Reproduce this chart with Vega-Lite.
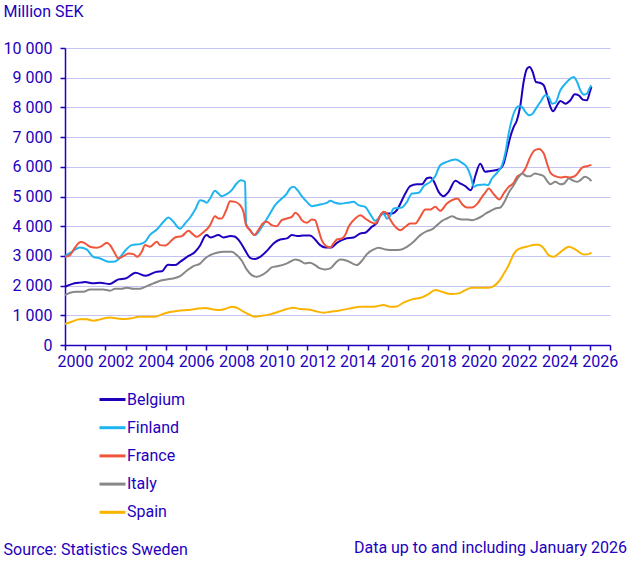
{
  "$schema": "https://vega.github.io/schema/vega-lite/v6.json",
  "description": "Monthly values by country, million SEK, 2000 to January 2026.",
  "width": 545,
  "height": 297,
  "autosize": "none",
  "padding": {"left": 65, "top": 48, "right": 25, "bottom": 217},
  "config": {
    "font": "Roboto",
    "view": {"stroke": null},
    "axis": {
      "labelFont": "Roboto",
      "labelFontSize": 16,
      "labelColor": "#1e00be",
      "titleFont": "Roboto",
      "titleFontSize": 16,
      "titleFontWeight": "normal",
      "titleColor": "#1e00be",
      "domainColor": "#1e00be",
      "domainWidth": 1.5,
      "tickColor": "#1e00be",
      "tickWidth": 1.5,
      "tickSize": 5
    }
  },
  "title": {
    "text": "Data up to and including January 2026",
    "orient": "bottom",
    "anchor": "end",
    "frame": "group",
    "font": "Roboto",
    "fontSize": 16,
    "fontWeight": "normal",
    "color": "#1e00be",
    "dx": 17,
    "dy": -21
  },
  "datasets": {
    "rows": [
      {"country": "Belgium", "year": 2000.00, "value": 1960},
      {"country": "Belgium", "year": 2000.33, "value": 2050},
      {"country": "Belgium", "year": 2000.75, "value": 2100},
      {"country": "Belgium", "year": 2001.00, "value": 2120},
      {"country": "Belgium", "year": 2001.40, "value": 2075},
      {"country": "Belgium", "year": 2001.75, "value": 2100},
      {"country": "Belgium", "year": 2002.20, "value": 2050},
      {"country": "Belgium", "year": 2002.65, "value": 2210},
      {"country": "Belgium", "year": 2003.00, "value": 2240},
      {"country": "Belgium", "year": 2003.50, "value": 2430},
      {"country": "Belgium", "year": 2004.00, "value": 2330},
      {"country": "Belgium", "year": 2004.55, "value": 2470},
      {"country": "Belgium", "year": 2004.80, "value": 2480},
      {"country": "Belgium", "year": 2005.10, "value": 2700},
      {"country": "Belgium", "year": 2005.45, "value": 2690},
      {"country": "Belgium", "year": 2005.70, "value": 2800},
      {"country": "Belgium", "year": 2006.10, "value": 2990},
      {"country": "Belgium", "year": 2006.45, "value": 3140},
      {"country": "Belgium", "year": 2006.70, "value": 3360},
      {"country": "Belgium", "year": 2006.94, "value": 3670},
      {"country": "Belgium", "year": 2007.02, "value": 3700},
      {"country": "Belgium", "year": 2007.20, "value": 3620},
      {"country": "Belgium", "year": 2007.60, "value": 3700},
      {"country": "Belgium", "year": 2007.85, "value": 3620},
      {"country": "Belgium", "year": 2008.20, "value": 3666},
      {"country": "Belgium", "year": 2008.40, "value": 3650},
      {"country": "Belgium", "year": 2008.67, "value": 3475},
      {"country": "Belgium", "year": 2008.92, "value": 3195},
      {"country": "Belgium", "year": 2009.17, "value": 2937},
      {"country": "Belgium", "year": 2009.42, "value": 2892},
      {"country": "Belgium", "year": 2009.67, "value": 2970},
      {"country": "Belgium", "year": 2010.00, "value": 3170},
      {"country": "Belgium", "year": 2010.33, "value": 3420},
      {"country": "Belgium", "year": 2010.66, "value": 3553},
      {"country": "Belgium", "year": 2011.00, "value": 3590},
      {"country": "Belgium", "year": 2011.24, "value": 3700},
      {"country": "Belgium", "year": 2011.57, "value": 3666},
      {"country": "Belgium", "year": 2011.80, "value": 3690},
      {"country": "Belgium", "year": 2012.14, "value": 3690},
      {"country": "Belgium", "year": 2012.39, "value": 3553},
      {"country": "Belgium", "year": 2012.64, "value": 3363},
      {"country": "Belgium", "year": 2012.90, "value": 3285},
      {"country": "Belgium", "year": 2013.20, "value": 3285},
      {"country": "Belgium", "year": 2013.47, "value": 3440},
      {"country": "Belgium", "year": 2013.88, "value": 3580},
      {"country": "Belgium", "year": 2014.30, "value": 3620},
      {"country": "Belgium", "year": 2014.63, "value": 3755},
      {"country": "Belgium", "year": 2014.87, "value": 3780},
      {"country": "Belgium", "year": 2015.20, "value": 3980},
      {"country": "Belgium", "year": 2015.45, "value": 4114},
      {"country": "Belgium", "year": 2015.70, "value": 4430},
      {"country": "Belgium", "year": 2015.95, "value": 4430},
      {"country": "Belgium", "year": 2016.20, "value": 4430},
      {"country": "Belgium", "year": 2016.44, "value": 4540},
      {"country": "Belgium", "year": 2016.60, "value": 4740},
      {"country": "Belgium", "year": 2016.86, "value": 5100},
      {"country": "Belgium", "year": 2017.10, "value": 5347},
      {"country": "Belgium", "year": 2017.44, "value": 5414},
      {"country": "Belgium", "year": 2017.68, "value": 5414},
      {"country": "Belgium", "year": 2017.93, "value": 5616},
      {"country": "Belgium", "year": 2018.10, "value": 5640},
      {"country": "Belgium", "year": 2018.26, "value": 5527},
      {"country": "Belgium", "year": 2018.51, "value": 5157},
      {"country": "Belgium", "year": 2018.76, "value": 5011},
      {"country": "Belgium", "year": 2019.00, "value": 5157},
      {"country": "Belgium", "year": 2019.34, "value": 5527},
      {"country": "Belgium", "year": 2019.59, "value": 5437},
      {"country": "Belgium", "year": 2019.83, "value": 5347},
      {"country": "Belgium", "year": 2020.11, "value": 5213},
      {"country": "Belgium", "year": 2020.33, "value": 5700},
      {"country": "Belgium", "year": 2020.57, "value": 6100},
      {"country": "Belgium", "year": 2020.82, "value": 5830},
      {"country": "Belgium", "year": 2021.07, "value": 5860},
      {"country": "Belgium", "year": 2021.32, "value": 5885},
      {"country": "Belgium", "year": 2021.57, "value": 5940},
      {"country": "Belgium", "year": 2021.73, "value": 6110},
      {"country": "Belgium", "year": 2021.90, "value": 6558},
      {"country": "Belgium", "year": 2022.06, "value": 7006},
      {"country": "Belgium", "year": 2022.23, "value": 7343},
      {"country": "Belgium", "year": 2022.39, "value": 7567},
      {"country": "Belgium", "year": 2022.56, "value": 8071},
      {"country": "Belgium", "year": 2022.72, "value": 8856},
      {"country": "Belgium", "year": 2022.89, "value": 9304},
      {"country": "Belgium", "year": 2023.02, "value": 9360},
      {"country": "Belgium", "year": 2023.17, "value": 9192},
      {"country": "Belgium", "year": 2023.33, "value": 8856},
      {"country": "Belgium", "year": 2023.55, "value": 8822},
      {"country": "Belgium", "year": 2023.72, "value": 8744},
      {"country": "Belgium", "year": 2023.88, "value": 8408},
      {"country": "Belgium", "year": 2024.05, "value": 8015},
      {"country": "Belgium", "year": 2024.18, "value": 7869},
      {"country": "Belgium", "year": 2024.38, "value": 8071},
      {"country": "Belgium", "year": 2024.54, "value": 8217},
      {"country": "Belgium", "year": 2024.79, "value": 8127},
      {"country": "Belgium", "year": 2025.04, "value": 8240},
      {"country": "Belgium", "year": 2025.25, "value": 8441},
      {"country": "Belgium", "year": 2025.45, "value": 8408},
      {"country": "Belgium", "year": 2025.65, "value": 8262},
      {"country": "Belgium", "year": 2025.86, "value": 8240},
      {"country": "Belgium", "year": 2026.00, "value": 8520},
      {"country": "Belgium", "year": 2026.08, "value": 8688},

      {"country": "Finland", "year": 2000.00, "value": 2993},
      {"country": "Finland", "year": 2000.33, "value": 3139},
      {"country": "Finland", "year": 2000.74, "value": 3285},
      {"country": "Finland", "year": 2001.07, "value": 3217},
      {"country": "Finland", "year": 2001.40, "value": 2970},
      {"country": "Finland", "year": 2001.74, "value": 2915},
      {"country": "Finland", "year": 2002.15, "value": 2802},
      {"country": "Finland", "year": 2002.40, "value": 2802},
      {"country": "Finland", "year": 2002.64, "value": 2881},
      {"country": "Finland", "year": 2002.98, "value": 3172},
      {"country": "Finland", "year": 2003.30, "value": 3363},
      {"country": "Finland", "year": 2003.72, "value": 3397},
      {"country": "Finland", "year": 2003.97, "value": 3475},
      {"country": "Finland", "year": 2004.20, "value": 3700},
      {"country": "Finland", "year": 2004.55, "value": 3890},
      {"country": "Finland", "year": 2004.88, "value": 4148},
      {"country": "Finland", "year": 2005.12, "value": 4293},
      {"country": "Finland", "year": 2005.37, "value": 4148},
      {"country": "Finland", "year": 2005.70, "value": 3912},
      {"country": "Finland", "year": 2005.95, "value": 4092},
      {"country": "Finland", "year": 2006.20, "value": 4293},
      {"country": "Finland", "year": 2006.45, "value": 4562},
      {"country": "Finland", "year": 2006.70, "value": 4876},
      {"country": "Finland", "year": 2006.86, "value": 4850},
      {"country": "Finland", "year": 2007.02, "value": 4787},
      {"country": "Finland", "year": 2007.19, "value": 4932},
      {"country": "Finland", "year": 2007.43, "value": 5190},
      {"country": "Finland", "year": 2007.60, "value": 5100},
      {"country": "Finland", "year": 2007.76, "value": 5011},
      {"country": "Finland", "year": 2008.01, "value": 5078},
      {"country": "Finland", "year": 2008.26, "value": 5213},
      {"country": "Finland", "year": 2008.50, "value": 5437},
      {"country": "Finland", "year": 2008.71, "value": 5549},
      {"country": "Finland", "year": 2008.92, "value": 5493},
      {"country": "Finland", "year": 2008.97, "value": 4092},
      {"country": "Finland", "year": 2009.17, "value": 3867},
      {"country": "Finland", "year": 2009.42, "value": 3700},
      {"country": "Finland", "year": 2009.67, "value": 3890},
      {"country": "Finland", "year": 2009.91, "value": 4148},
      {"country": "Finland", "year": 2010.16, "value": 4428},
      {"country": "Finland", "year": 2010.41, "value": 4708},
      {"country": "Finland", "year": 2010.74, "value": 4932},
      {"country": "Finland", "year": 2010.99, "value": 5100},
      {"country": "Finland", "year": 2011.15, "value": 5269},
      {"country": "Finland", "year": 2011.32, "value": 5325},
      {"country": "Finland", "year": 2011.52, "value": 5213},
      {"country": "Finland", "year": 2011.73, "value": 5011},
      {"country": "Finland", "year": 2011.98, "value": 4820},
      {"country": "Finland", "year": 2012.23, "value": 4675},
      {"country": "Finland", "year": 2012.48, "value": 4708},
      {"country": "Finland", "year": 2012.72, "value": 4742},
      {"country": "Finland", "year": 2012.97, "value": 4787},
      {"country": "Finland", "year": 2013.14, "value": 4854},
      {"country": "Finland", "year": 2013.38, "value": 4787},
      {"country": "Finland", "year": 2013.63, "value": 4760},
      {"country": "Finland", "year": 2013.97, "value": 4787},
      {"country": "Finland", "year": 2014.30, "value": 4820},
      {"country": "Finland", "year": 2014.54, "value": 4708},
      {"country": "Finland", "year": 2014.87, "value": 4652},
      {"country": "Finland", "year": 2015.12, "value": 4406},
      {"country": "Finland", "year": 2015.37, "value": 4181},
      {"country": "Finland", "year": 2015.53, "value": 4260},
      {"country": "Finland", "year": 2015.78, "value": 4428},
      {"country": "Finland", "year": 2015.95, "value": 4250},
      {"country": "Finland", "year": 2016.11, "value": 4350},
      {"country": "Finland", "year": 2016.28, "value": 4596},
      {"country": "Finland", "year": 2016.69, "value": 4630},
      {"country": "Finland", "year": 2016.94, "value": 4820},
      {"country": "Finland", "year": 2017.19, "value": 5100},
      {"country": "Finland", "year": 2017.52, "value": 5123},
      {"country": "Finland", "year": 2017.77, "value": 5347},
      {"country": "Finland", "year": 2018.10, "value": 5493},
      {"country": "Finland", "year": 2018.34, "value": 5683},
      {"country": "Finland", "year": 2018.59, "value": 6053},
      {"country": "Finland", "year": 2018.92, "value": 6165},
      {"country": "Finland", "year": 2019.34, "value": 6244},
      {"country": "Finland", "year": 2019.67, "value": 6132},
      {"country": "Finland", "year": 2019.92, "value": 5975},
      {"country": "Finland", "year": 2020.11, "value": 5661},
      {"country": "Finland", "year": 2020.25, "value": 5325},
      {"country": "Finland", "year": 2020.41, "value": 5381},
      {"country": "Finland", "year": 2020.82, "value": 5403},
      {"country": "Finland", "year": 2020.95, "value": 5381},
      {"country": "Finland", "year": 2021.15, "value": 5605},
      {"country": "Finland", "year": 2021.40, "value": 5795},
      {"country": "Finland", "year": 2021.65, "value": 6053},
      {"country": "Finland", "year": 2021.81, "value": 6446},
      {"country": "Finland", "year": 2021.98, "value": 7118},
      {"country": "Finland", "year": 2022.15, "value": 7623},
      {"country": "Finland", "year": 2022.31, "value": 7926},
      {"country": "Finland", "year": 2022.48, "value": 8038},
      {"country": "Finland", "year": 2022.64, "value": 8015},
      {"country": "Finland", "year": 2022.81, "value": 7847},
      {"country": "Finland", "year": 2023.00, "value": 7735},
      {"country": "Finland", "year": 2023.17, "value": 7791},
      {"country": "Finland", "year": 2023.30, "value": 7926},
      {"country": "Finland", "year": 2023.55, "value": 8183},
      {"country": "Finland", "year": 2023.80, "value": 8408},
      {"country": "Finland", "year": 2023.96, "value": 8352},
      {"country": "Finland", "year": 2024.13, "value": 8127},
      {"country": "Finland", "year": 2024.29, "value": 8150},
      {"country": "Finland", "year": 2024.54, "value": 8576},
      {"country": "Finland", "year": 2024.79, "value": 8800},
      {"country": "Finland", "year": 2025.04, "value": 8968},
      {"country": "Finland", "year": 2025.20, "value": 9024},
      {"country": "Finland", "year": 2025.37, "value": 8856},
      {"country": "Finland", "year": 2025.53, "value": 8576},
      {"country": "Finland", "year": 2025.70, "value": 8430},
      {"country": "Finland", "year": 2025.86, "value": 8464},
      {"country": "Finland", "year": 2026.00, "value": 8665},
      {"country": "Finland", "year": 2026.08, "value": 8744},

      {"country": "France", "year": 2000.00, "value": 2970},
      {"country": "France", "year": 2000.25, "value": 3027},
      {"country": "France", "year": 2000.50, "value": 3285},
      {"country": "France", "year": 2000.78, "value": 3464},
      {"country": "France", "year": 2001.00, "value": 3419},
      {"country": "France", "year": 2001.24, "value": 3307},
      {"country": "France", "year": 2001.57, "value": 3273},
      {"country": "France", "year": 2001.82, "value": 3329},
      {"country": "France", "year": 2002.07, "value": 3441},
      {"country": "France", "year": 2002.23, "value": 3363},
      {"country": "France", "year": 2002.43, "value": 3139},
      {"country": "France", "year": 2002.64, "value": 2915},
      {"country": "France", "year": 2002.90, "value": 2993},
      {"country": "France", "year": 2003.14, "value": 3083},
      {"country": "France", "year": 2003.39, "value": 3060},
      {"country": "France", "year": 2003.59, "value": 2970},
      {"country": "France", "year": 2003.80, "value": 3139},
      {"country": "France", "year": 2003.97, "value": 3363},
      {"country": "France", "year": 2004.21, "value": 3307},
      {"country": "France", "year": 2004.55, "value": 3475},
      {"country": "France", "year": 2004.71, "value": 3363},
      {"country": "France", "year": 2004.96, "value": 3350},
      {"country": "France", "year": 2005.45, "value": 3621},
      {"country": "France", "year": 2005.79, "value": 3666},
      {"country": "France", "year": 2006.12, "value": 3845},
      {"country": "France", "year": 2006.33, "value": 3733},
      {"country": "France", "year": 2006.53, "value": 3643},
      {"country": "France", "year": 2006.78, "value": 3755},
      {"country": "France", "year": 2006.94, "value": 3845},
      {"country": "France", "year": 2007.02, "value": 3890},
      {"country": "France", "year": 2007.19, "value": 4036},
      {"country": "France", "year": 2007.43, "value": 4338},
      {"country": "France", "year": 2007.60, "value": 4260},
      {"country": "France", "year": 2007.76, "value": 4260},
      {"country": "France", "year": 2008.00, "value": 4562},
      {"country": "France", "year": 2008.18, "value": 4843},
      {"country": "France", "year": 2008.43, "value": 4820},
      {"country": "France", "year": 2008.67, "value": 4708},
      {"country": "France", "year": 2008.84, "value": 4484},
      {"country": "France", "year": 2008.97, "value": 4036},
      {"country": "France", "year": 2009.17, "value": 3867},
      {"country": "France", "year": 2009.37, "value": 3700},
      {"country": "France", "year": 2009.58, "value": 3867},
      {"country": "France", "year": 2009.83, "value": 4114},
      {"country": "France", "year": 2010.00, "value": 4148},
      {"country": "France", "year": 2010.24, "value": 4036},
      {"country": "France", "year": 2010.49, "value": 4002},
      {"country": "France", "year": 2010.74, "value": 4204},
      {"country": "France", "year": 2010.99, "value": 4260},
      {"country": "France", "year": 2011.24, "value": 4316},
      {"country": "France", "year": 2011.40, "value": 4450},
      {"country": "France", "year": 2011.57, "value": 4372},
      {"country": "France", "year": 2011.73, "value": 4204},
      {"country": "France", "year": 2011.98, "value": 4114},
      {"country": "France", "year": 2012.23, "value": 4226},
      {"country": "France", "year": 2012.39, "value": 4204},
      {"country": "France", "year": 2012.56, "value": 3867},
      {"country": "France", "year": 2012.72, "value": 3531},
      {"country": "France", "year": 2012.94, "value": 3329},
      {"country": "France", "year": 2013.14, "value": 3285},
      {"country": "France", "year": 2013.30, "value": 3419},
      {"country": "France", "year": 2013.47, "value": 3553},
      {"country": "France", "year": 2013.72, "value": 3587},
      {"country": "France", "year": 2013.88, "value": 3700},
      {"country": "France", "year": 2014.05, "value": 3980},
      {"country": "France", "year": 2014.38, "value": 4260},
      {"country": "France", "year": 2014.63, "value": 4372},
      {"country": "France", "year": 2014.87, "value": 4260},
      {"country": "France", "year": 2015.12, "value": 4148},
      {"country": "France", "year": 2015.37, "value": 4092},
      {"country": "France", "year": 2015.58, "value": 4316},
      {"country": "France", "year": 2015.78, "value": 4484},
      {"country": "France", "year": 2015.95, "value": 4428},
      {"country": "France", "year": 2016.11, "value": 4226},
      {"country": "France", "year": 2016.36, "value": 3980},
      {"country": "France", "year": 2016.61, "value": 3867},
      {"country": "France", "year": 2016.86, "value": 3980},
      {"country": "France", "year": 2017.10, "value": 4092},
      {"country": "France", "year": 2017.35, "value": 4092},
      {"country": "France", "year": 2017.60, "value": 4316},
      {"country": "France", "year": 2017.85, "value": 4562},
      {"country": "France", "year": 2018.10, "value": 4562},
      {"country": "France", "year": 2018.34, "value": 4652},
      {"country": "France", "year": 2018.59, "value": 4518},
      {"country": "France", "year": 2018.92, "value": 4764},
      {"country": "France", "year": 2019.25, "value": 4899},
      {"country": "France", "year": 2019.45, "value": 4932},
      {"country": "France", "year": 2019.67, "value": 4742},
      {"country": "France", "year": 2019.92, "value": 4630},
      {"country": "France", "year": 2020.16, "value": 4630},
      {"country": "France", "year": 2020.41, "value": 4742},
      {"country": "France", "year": 2020.66, "value": 4988},
      {"country": "France", "year": 2020.82, "value": 5130},
      {"country": "France", "year": 2020.99, "value": 5269},
      {"country": "France", "year": 2021.24, "value": 5078},
      {"country": "France", "year": 2021.52, "value": 4899},
      {"country": "France", "year": 2021.73, "value": 5100},
      {"country": "France", "year": 2021.98, "value": 5325},
      {"country": "France", "year": 2022.23, "value": 5459},
      {"country": "France", "year": 2022.39, "value": 5661},
      {"country": "France", "year": 2022.64, "value": 5773},
      {"country": "France", "year": 2022.81, "value": 5941},
      {"country": "France", "year": 2023.05, "value": 6334},
      {"country": "France", "year": 2023.27, "value": 6558},
      {"country": "France", "year": 2023.47, "value": 6603},
      {"country": "France", "year": 2023.72, "value": 6446},
      {"country": "France", "year": 2023.88, "value": 6110},
      {"country": "France", "year": 2024.05, "value": 5795},
      {"country": "France", "year": 2024.29, "value": 5683},
      {"country": "France", "year": 2024.54, "value": 5639},
      {"country": "France", "year": 2024.79, "value": 5661},
      {"country": "France", "year": 2025.04, "value": 5639},
      {"country": "France", "year": 2025.25, "value": 5683},
      {"country": "France", "year": 2025.45, "value": 5829},
      {"country": "France", "year": 2025.62, "value": 5975},
      {"country": "France", "year": 2025.86, "value": 6020},
      {"country": "France", "year": 2026.08, "value": 6065},

      {"country": "Italy", "year": 2000.00, "value": 1681},
      {"country": "Italy", "year": 2000.25, "value": 1760},
      {"country": "Italy", "year": 2000.58, "value": 1794},
      {"country": "Italy", "year": 2000.91, "value": 1794},
      {"country": "Italy", "year": 2001.24, "value": 1872},
      {"country": "Italy", "year": 2001.57, "value": 1872},
      {"country": "Italy", "year": 2001.90, "value": 1872},
      {"country": "Italy", "year": 2002.23, "value": 1827},
      {"country": "Italy", "year": 2002.48, "value": 1894},
      {"country": "Italy", "year": 2002.81, "value": 1894},
      {"country": "Italy", "year": 2003.06, "value": 1928},
      {"country": "Italy", "year": 2003.39, "value": 1894},
      {"country": "Italy", "year": 2003.72, "value": 1894},
      {"country": "Italy", "year": 2004.05, "value": 1984},
      {"country": "Italy", "year": 2004.38, "value": 2074},
      {"country": "Italy", "year": 2004.71, "value": 2164},
      {"country": "Italy", "year": 2005.04, "value": 2208},
      {"country": "Italy", "year": 2005.37, "value": 2242},
      {"country": "Italy", "year": 2005.70, "value": 2320},
      {"country": "Italy", "year": 2006.03, "value": 2500},
      {"country": "Italy", "year": 2006.36, "value": 2657},
      {"country": "Italy", "year": 2006.69, "value": 2740},
      {"country": "Italy", "year": 2006.94, "value": 2915},
      {"country": "Italy", "year": 2007.19, "value": 3027},
      {"country": "Italy", "year": 2007.52, "value": 3105},
      {"country": "Italy", "year": 2007.85, "value": 3139},
      {"country": "Italy", "year": 2008.26, "value": 3139},
      {"country": "Italy", "year": 2008.51, "value": 3027},
      {"country": "Italy", "year": 2008.76, "value": 2836},
      {"country": "Italy", "year": 2009.00, "value": 2545},
      {"country": "Italy", "year": 2009.25, "value": 2354},
      {"country": "Italy", "year": 2009.50, "value": 2298},
      {"country": "Italy", "year": 2009.75, "value": 2354},
      {"country": "Italy", "year": 2010.00, "value": 2466},
      {"country": "Italy", "year": 2010.24, "value": 2612},
      {"country": "Italy", "year": 2010.57, "value": 2657},
      {"country": "Italy", "year": 2010.90, "value": 2724},
      {"country": "Italy", "year": 2011.15, "value": 2802},
      {"country": "Italy", "year": 2011.40, "value": 2881},
      {"country": "Italy", "year": 2011.65, "value": 2836},
      {"country": "Italy", "year": 2011.90, "value": 2746},
      {"country": "Italy", "year": 2012.14, "value": 2769},
      {"country": "Italy", "year": 2012.39, "value": 2690},
      {"country": "Italy", "year": 2012.64, "value": 2578},
      {"country": "Italy", "year": 2012.89, "value": 2545},
      {"country": "Italy", "year": 2013.14, "value": 2578},
      {"country": "Italy", "year": 2013.38, "value": 2746},
      {"country": "Italy", "year": 2013.63, "value": 2881},
      {"country": "Italy", "year": 2013.97, "value": 2836},
      {"country": "Italy", "year": 2014.30, "value": 2724},
      {"country": "Italy", "year": 2014.46, "value": 2690},
      {"country": "Italy", "year": 2014.71, "value": 2836},
      {"country": "Italy", "year": 2014.96, "value": 3060},
      {"country": "Italy", "year": 2015.29, "value": 3217},
      {"country": "Italy", "year": 2015.53, "value": 3273},
      {"country": "Italy", "year": 2015.87, "value": 3217},
      {"country": "Italy", "year": 2016.28, "value": 3195},
      {"country": "Italy", "year": 2016.61, "value": 3210},
      {"country": "Italy", "year": 2016.94, "value": 3307},
      {"country": "Italy", "year": 2017.27, "value": 3475},
      {"country": "Italy", "year": 2017.60, "value": 3699},
      {"country": "Italy", "year": 2017.93, "value": 3834},
      {"country": "Italy", "year": 2018.18, "value": 3890},
      {"country": "Italy", "year": 2018.43, "value": 4036},
      {"country": "Italy", "year": 2018.68, "value": 4181},
      {"country": "Italy", "year": 2018.92, "value": 4260},
      {"country": "Italy", "year": 2019.17, "value": 4338},
      {"country": "Italy", "year": 2019.42, "value": 4260},
      {"country": "Italy", "year": 2019.67, "value": 4226},
      {"country": "Italy", "year": 2019.92, "value": 4226},
      {"country": "Italy", "year": 2020.16, "value": 4204},
      {"country": "Italy", "year": 2020.41, "value": 4250},
      {"country": "Italy", "year": 2020.66, "value": 4338},
      {"country": "Italy", "year": 2020.82, "value": 4420},
      {"country": "Italy", "year": 2021.07, "value": 4506},
      {"country": "Italy", "year": 2021.32, "value": 4596},
      {"country": "Italy", "year": 2021.57, "value": 4630},
      {"country": "Italy", "year": 2021.81, "value": 4876},
      {"country": "Italy", "year": 2021.98, "value": 5123},
      {"country": "Italy", "year": 2022.23, "value": 5381},
      {"country": "Italy", "year": 2022.48, "value": 5661},
      {"country": "Italy", "year": 2022.64, "value": 5773},
      {"country": "Italy", "year": 2022.89, "value": 5683},
      {"country": "Italy", "year": 2023.05, "value": 5683},
      {"country": "Italy", "year": 2023.27, "value": 5773},
      {"country": "Italy", "year": 2023.50, "value": 5740},
      {"country": "Italy", "year": 2023.72, "value": 5683},
      {"country": "Italy", "year": 2023.88, "value": 5527},
      {"country": "Italy", "year": 2024.05, "value": 5414},
      {"country": "Italy", "year": 2024.29, "value": 5493},
      {"country": "Italy", "year": 2024.54, "value": 5414},
      {"country": "Italy", "year": 2024.71, "value": 5430},
      {"country": "Italy", "year": 2024.96, "value": 5605},
      {"country": "Italy", "year": 2025.20, "value": 5527},
      {"country": "Italy", "year": 2025.37, "value": 5493},
      {"country": "Italy", "year": 2025.53, "value": 5549},
      {"country": "Italy", "year": 2025.75, "value": 5661},
      {"country": "Italy", "year": 2025.95, "value": 5605},
      {"country": "Italy", "year": 2026.08, "value": 5515},

      {"country": "Spain", "year": 2000.00, "value": 706},
      {"country": "Spain", "year": 2000.33, "value": 785},
      {"country": "Spain", "year": 2000.74, "value": 863},
      {"country": "Spain", "year": 2001.07, "value": 863},
      {"country": "Spain", "year": 2001.40, "value": 818},
      {"country": "Spain", "year": 2001.74, "value": 863},
      {"country": "Spain", "year": 2002.23, "value": 930},
      {"country": "Spain", "year": 2002.56, "value": 897},
      {"country": "Spain", "year": 2002.98, "value": 874},
      {"country": "Spain", "year": 2003.30, "value": 897},
      {"country": "Spain", "year": 2003.64, "value": 953},
      {"country": "Spain", "year": 2004.05, "value": 953},
      {"country": "Spain", "year": 2004.46, "value": 953},
      {"country": "Spain", "year": 2004.80, "value": 1031},
      {"country": "Spain", "year": 2005.20, "value": 1110},
      {"country": "Spain", "year": 2005.62, "value": 1155},
      {"country": "Spain", "year": 2006.03, "value": 1177},
      {"country": "Spain", "year": 2006.45, "value": 1211},
      {"country": "Spain", "year": 2006.94, "value": 1250},
      {"country": "Spain", "year": 2007.35, "value": 1199},
      {"country": "Spain", "year": 2007.68, "value": 1177},
      {"country": "Spain", "year": 2008.01, "value": 1233},
      {"country": "Spain", "year": 2008.26, "value": 1289},
      {"country": "Spain", "year": 2008.51, "value": 1256},
      {"country": "Spain", "year": 2008.84, "value": 1121},
      {"country": "Spain", "year": 2009.17, "value": 1009},
      {"country": "Spain", "year": 2009.42, "value": 953},
      {"country": "Spain", "year": 2009.75, "value": 986},
      {"country": "Spain", "year": 2010.16, "value": 1031},
      {"country": "Spain", "year": 2010.57, "value": 1121},
      {"country": "Spain", "year": 2010.99, "value": 1211},
      {"country": "Spain", "year": 2011.32, "value": 1256},
      {"country": "Spain", "year": 2011.65, "value": 1211},
      {"country": "Spain", "year": 2012.06, "value": 1199},
      {"country": "Spain", "year": 2012.39, "value": 1143},
      {"country": "Spain", "year": 2012.80, "value": 1087},
      {"country": "Spain", "year": 2013.14, "value": 1121},
      {"country": "Spain", "year": 2013.55, "value": 1155},
      {"country": "Spain", "year": 2014.13, "value": 1233},
      {"country": "Spain", "year": 2014.63, "value": 1289},
      {"country": "Spain", "year": 2015.29, "value": 1289},
      {"country": "Spain", "year": 2015.78, "value": 1345},
      {"country": "Spain", "year": 2016.11, "value": 1289},
      {"country": "Spain", "year": 2016.44, "value": 1300},
      {"country": "Spain", "year": 2016.77, "value": 1424},
      {"country": "Spain", "year": 2017.19, "value": 1536},
      {"country": "Spain", "year": 2017.68, "value": 1603},
      {"country": "Spain", "year": 2018.01, "value": 1715},
      {"country": "Spain", "year": 2018.34, "value": 1850},
      {"country": "Spain", "year": 2018.68, "value": 1794},
      {"country": "Spain", "year": 2019.09, "value": 1715},
      {"country": "Spain", "year": 2019.50, "value": 1738},
      {"country": "Spain", "year": 2019.83, "value": 1850},
      {"country": "Spain", "year": 2020.16, "value": 1928},
      {"country": "Spain", "year": 2020.58, "value": 1928},
      {"country": "Spain", "year": 2020.99, "value": 1928},
      {"country": "Spain", "year": 2021.24, "value": 1984},
      {"country": "Spain", "year": 2021.48, "value": 2130},
      {"country": "Spain", "year": 2021.73, "value": 2388},
      {"country": "Spain", "year": 2021.98, "value": 2690},
      {"country": "Spain", "year": 2022.23, "value": 3060},
      {"country": "Spain", "year": 2022.39, "value": 3195},
      {"country": "Spain", "year": 2022.64, "value": 3273},
      {"country": "Spain", "year": 2022.97, "value": 3329},
      {"country": "Spain", "year": 2023.30, "value": 3374},
      {"country": "Spain", "year": 2023.47, "value": 3374},
      {"country": "Spain", "year": 2023.72, "value": 3251},
      {"country": "Spain", "year": 2023.96, "value": 3027},
      {"country": "Spain", "year": 2024.21, "value": 2970},
      {"country": "Spain", "year": 2024.46, "value": 3083},
      {"country": "Spain", "year": 2024.71, "value": 3217},
      {"country": "Spain", "year": 2024.96, "value": 3307},
      {"country": "Spain", "year": 2025.20, "value": 3251},
      {"country": "Spain", "year": 2025.45, "value": 3139},
      {"country": "Spain", "year": 2025.70, "value": 3049},
      {"country": "Spain", "year": 2025.95, "value": 3060},
      {"country": "Spain", "year": 2026.08, "value": 3116}
    ]
  },
  "data": {"name": "rows"},
  "mark": {"type": "line", "strokeWidth": 2, "interpolate": "monotone"},
  "encoding": {
    "x": {
      "field": "year",
      "type": "quantitative",
      "scale": {"domain": [2000, 2027], "nice": false, "zero": false},
      "axis": {
        "values": [2000, 2001, 2002, 2003, 2004, 2005, 2006, 2007, 2008, 2009, 2010, 2011, 2012, 2013, 2014, 2015, 2016, 2017, 2018, 2019, 2020, 2021, 2022, 2023, 2024, 2025, 2026, 2027],
        "labelExpr": "datum.value % 2 == 0 && datum.value < 2027 ? '' + datum.value : ''",
        "labelOffset": 10,
        "labelPadding": 3,
        "labelOverlap": false,
        "labelFlush": false,
        "grid": false,
        "title": "Source: Statistics Sweden",
        "titleX": -62,
        "titleY": 204,
        "titleAlign": "left",
        "titleBaseline": "middle"
      }
    },
    "y": {
      "field": "value",
      "type": "quantitative",
      "scale": {"domain": [0, 10000], "nice": false},
      "axis": {
        "values": [0, 1000, 2000, 3000, 4000, 5000, 6000, 7000, 8000, 9000, 10000],
        "labelExpr": "replace(format(datum.value, ','), ',', ' ')",
        "labelPadding": 8,
        "gridColor": "#c4c4f2",
        "gridWidth": 1,
        "title": "Million SEK",
        "titleAngle": 0,
        "titleX": -62,
        "titleY": -37,
        "titleAlign": "left",
        "titleBaseline": "middle"
      }
    },
    "color": {
      "field": "country",
      "type": "nominal",
      "scale": {
        "domain": ["Belgium", "Finland", "France", "Italy", "Spain"],
        "range": ["#1e00be", "#1eb4f0", "#f0553c", "#878787", "#fab400"]
      },
      "legend": {
        "orient": "none",
        "legendX": 33,
        "legendY": 337,
        "title": null,
        "padding": 0,
        "symbolType": "stroke",
        "symbolSize": 676,
        "symbolStrokeWidth": 3,
        "rowPadding": 5.2,
        "labelFont": "Roboto",
        "labelFontSize": 16,
        "labelColor": "#1e00be",
        "labelOffset": 0
      }
    }
  }
}
